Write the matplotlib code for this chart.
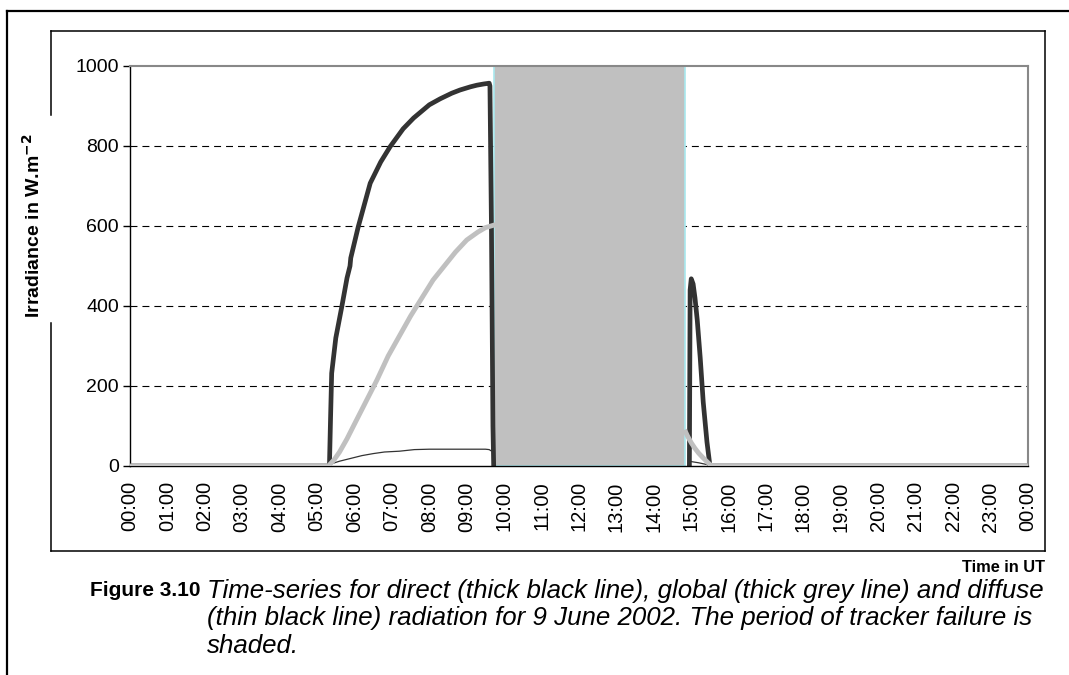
import numpy as np
import matplotlib
matplotlib.use("Agg")
import matplotlib.pyplot as plt
from matplotlib.lines import Line2D

plt.rcParams['font.family'] = ['Liberation Sans', 'DejaVu Sans']
plt.rcParams['lines.scale_dashes'] = False

############################################################
# Data (time in decimal hours UT, irradiance in W.m-2)
# nan = no record drawn during the tracker failure

directT = [0.0, 5.33, 5.36, 5.39, 5.5, 5.66, 5.8, 5.88, 5.9, 6.1, 6.42, 6.7, 6.95,
           7.3, 7.58, 8.0, 8.29, 8.6, 8.82, 9.1, 9.27, 9.45, 9.6, 9.62, 9.66, 9.7, 9.72, 9.73,
           14.94, 14.95, 14.97, 15.0, 15.05, 15.1, 15.16, 15.24, 15.32, 15.42, 15.5, 24.0]
directV = [0, 0, 120, 232, 320, 398, 470, 500, 520, 598, 707, 760, 798,
           843, 870, 903, 918, 932, 940, 948, 952, 955, 957, 950, 600, 100, 0, np.nan,
           np.nan, 0, 440, 468, 455, 420, 365, 270, 160, 60, 0, 0]

globalT = [0.0, 5.3, 5.45, 5.6, 5.8, 6.0, 6.3, 6.6, 6.9, 7.2, 7.5, 7.8, 8.1, 8.4,
           8.7, 9.0, 9.3, 9.5, 9.72, 9.73,
           14.84, 14.85, 14.9, 15.0, 15.1, 15.2, 15.3, 15.45, 15.55, 24.0]
globalV = [0, 0, 15, 35, 68, 105, 160, 215, 275, 325, 375, 420, 465, 500,
           535, 565, 585, 596, 602, np.nan,
           np.nan, 85, 75, 58, 44, 32, 22, 8, 0, 0]

diffuseT = [0.0, 5.25, 5.4, 5.6, 5.9, 6.2, 6.5, 6.8, 7.2, 7.6, 8.0, 8.5, 9.0, 9.5,
            9.6, 9.65, 9.7, 9.73,
            14.95, 15.0, 15.2, 15.4, 15.55, 24.0]
diffuseV = [0, 0, 6, 12, 19, 26, 31, 35, 37, 41, 42, 42, 42, 42,
            41, 38, 40, np.nan,
            12, 11, 8, 4, 0, 0]

# tracker failure period [h]
failStart = 9.73
failStop = 14.84

hourLabels = ['%02d:00' % (h % 24) for h in range(25)]

############################################################
# Figure layout in pixels

W, H = 1069, 675
def fx(x):
    return x / W
def fy(y):
    return 1 - y / H

fig = plt.figure(figsize=(W / 100., H / 100.), dpi=100)
ax = fig.add_axes([fx(130), fy(466), fx(1028) - fx(130), fy(66) - fy(466)])

ax.axvspan(failStart, failStop, facecolor='#C0C0C0', edgecolor='#A8E8EE', lw=1.2, zorder=1)
ax.plot(directT, directV, color='#333333', lw=3.4, zorder=2, solid_joinstyle='round')
ax.plot(diffuseT, diffuseV, color='#333333', lw=0.9, zorder=3)
ax.plot(globalT, globalV, color='#C0C0C0', lw=3.5, zorder=4, solid_joinstyle='round')

ax.set_xlim(0, 24)
ax.set_ylim(0, 1000)
ax.set_yticks(np.arange(0, 1001, 200))
for yv in [200, 400, 600, 800]:
    ax.axhline(yv, color='black', lw=0.8, linestyle=(0, (5, 3.6)), zorder=0.5)

ax.set_xticks(np.arange(0, 25, 1))
ax.set_xticklabels(hourLabels, rotation=90, fontsize=14.5)
ax.set_xticks(np.arange(0, 25, 4), minor=True)
ax.tick_params(axis='x', which='major', length=0, pad=11)
ax.tick_params(axis='x', which='minor', length=5, width=1, direction='out')
ax.tick_params(axis='y', length=5, width=1, direction='out', labelsize=14, pad=3)

for s in ['top', 'right']:
    ax.spines[s].set_color('#888888')
    ax.spines[s].set_linewidth(1.5)
for s in ['left', 'bottom']:
    ax.spines[s].set_color('black')
    ax.spines[s].set_linewidth(1.0)

############################################################
# Frames and text

def seg(x0, y0, x1, y1, lw):
    fig.add_artist(Line2D([fx(x0), fx(x1)], [fy(y0), fy(y1)], transform=fig.transFigure,
                          color='black', lw=lw, solid_capstyle='projecting'))

# page frame
seg(7, 11, 1069, 11, 1.6)
seg(7, 11, 7, 675, 1.6)
# chart frame (left side broken by the axis title)
seg(51, 31, 1045, 31, 1.1)
seg(1045, 31, 1045, 551, 1.1)
seg(51, 551, 1045, 551, 1.1)
seg(51, 31, 51, 115, 1.1)
seg(51, 323, 51, 551, 1.1)

fig.text(fx(33), fy(226), r'Irradiance in W.m$^{\mathbf{-2}}$', rotation=90, fontsize=14,
         fontweight='bold', ha='center', va='center')
fig.text(fx(1045), fy(568), 'Time in UT', fontsize=11.8, fontweight='bold',
         ha='right', va='center')

fig.text(fx(90), fy(591), 'Figure 3.10', fontsize=15, fontweight='bold', va='center')
capLines = ['Time-series for direct (thick black line), global (thick grey line) and diffuse',
            '(thin black line) radiation for 9 June 2002. The period of tracker failure is',
            'shaded.']
for i, line in enumerate(capLines):
    fig.text(fx(207), fy(591 + 27.5 * i), line, fontsize=18.6, style='italic', va='center')

fig.savefig('out.png', dpi=100)
